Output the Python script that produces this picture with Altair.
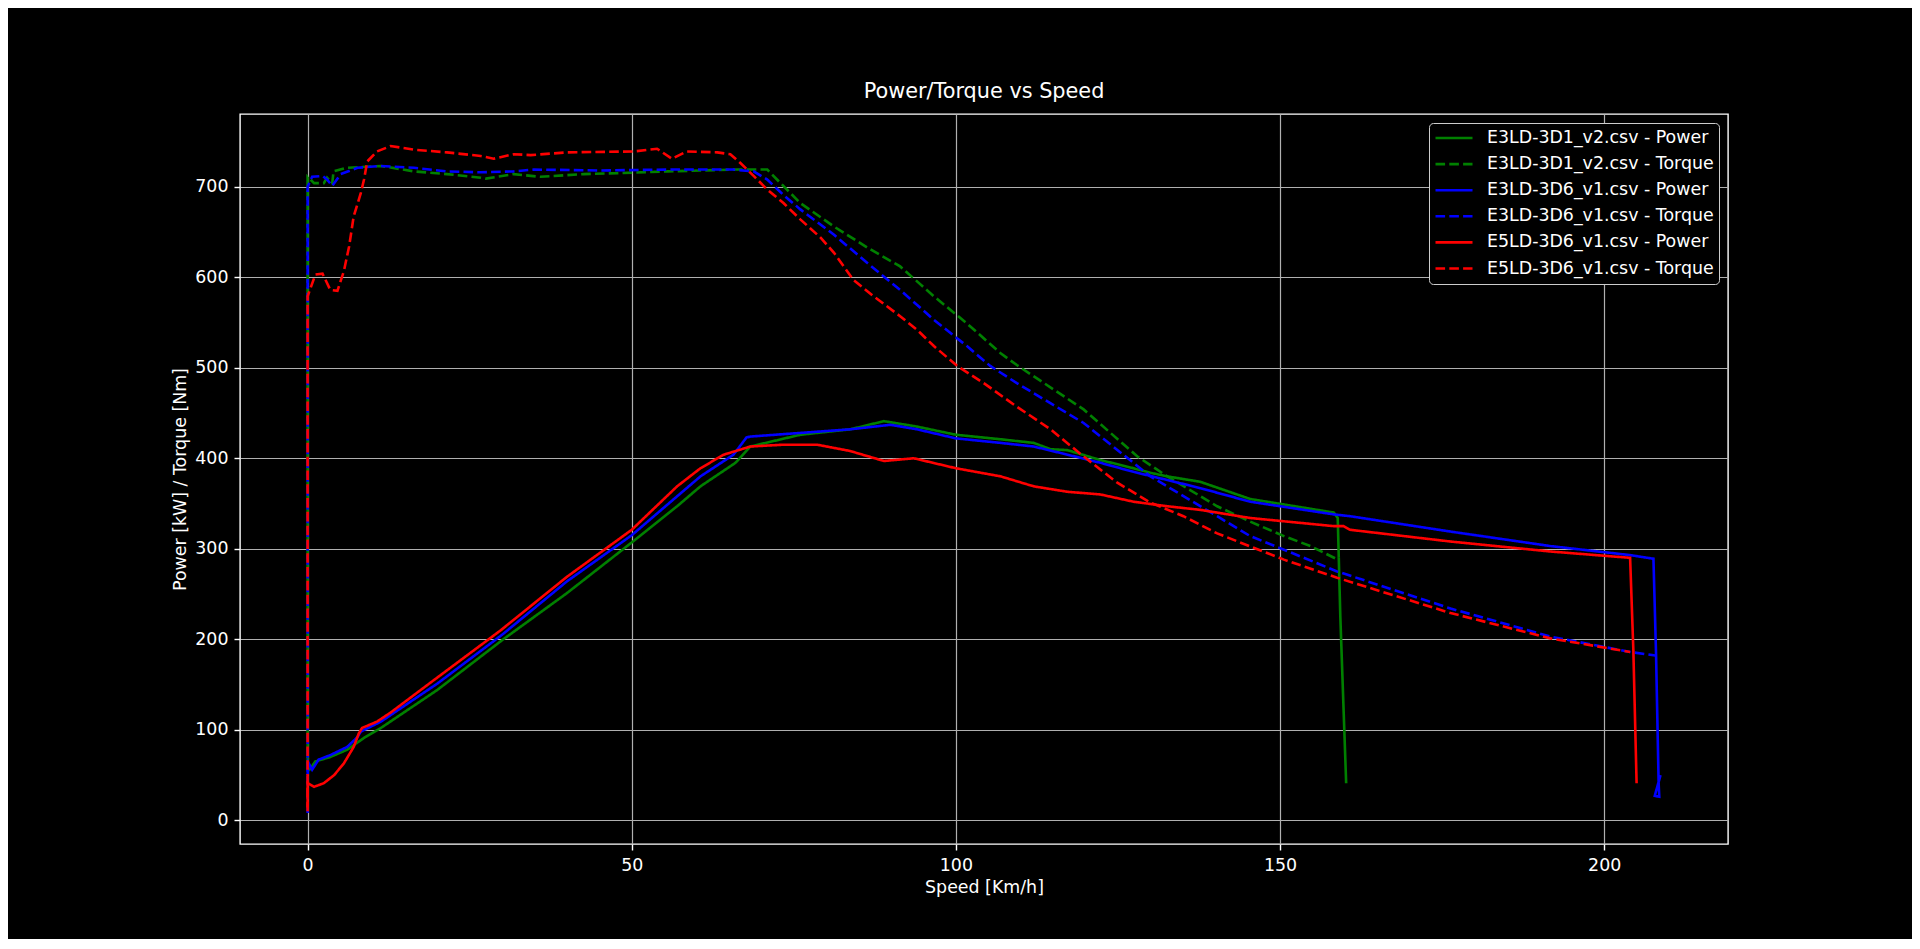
import altair as alt
import pandas as pd

SERIES = [
    "E3LD-3D1_v2.csv - Power",
    "E3LD-3D1_v2.csv - Torque",
    "E3LD-3D6_v1.csv - Power",
    "E3LD-3D6_v1.csv - Torque",
    "E5LD-3D6_v1.csv - Power",
    "E5LD-3D6_v1.csv - Torque",
]
COLORS = ["#008000", "#008000", "#0000ff", "#0000ff", "#ff0000", "#ff0000"]
DASHES = [[1, 0], [9.6, 4.2], [1, 0], [9.6, 4.2], [1, 0], [9.6, 4.2]]

# E3LD-3D1_v2 - Power
g_pow_x = [0.2, 0.5, 1.2, 3.5, 6.1, 8.7, 11.3, 20, 30, 40, 50, 57, 60.6, 66, 68.3, 76, 83.7,
           88.9, 94, 100, 106.9, 112, 114.6, 117.2, 122.3, 127.4, 130, 132.6, 137.7, 145.4,
           158.3, 158.9, 159.3, 160.2]
g_pow_y = [55, 58, 65, 70, 78, 91, 102, 144, 199, 251, 307, 347, 369, 395, 413, 426, 432,
           441, 435, 426, 421, 417, 410, 409, 398, 389, 384, 380, 374, 355,
           340, 334, 225, 41]

# E3LD-3D1_v2 - Torque
g_trq_x = [0, 0, 1.0, 2.5, 3.0, 3.8, 4.0, 6.1, 11.3, 16.4, 21.5, 26.7, 27.5, 31.8, 35.9, 42.6,
           47.8, 55.5, 65.7, 70.9, 72.4, 76, 81.2, 86.3, 91.4, 96.6, 101.7, 106.9, 109.4,
           119.7, 128, 132.6, 140.3, 145.4, 150.6, 154.7, 158.9]
g_trq_y = [60, 711, 704, 704, 710, 704, 717, 721, 723, 717, 714, 710, 709, 714, 711, 714,
           715, 717, 719, 719, 708, 682, 656, 633, 612, 579, 549, 516, 503,
           454, 402, 380, 347, 330, 314, 303, 288]

# E3LD-3D6_v1 - Power
b_pow_x = [0, 0.1, 0.7, 1.7, 3.5, 6.1, 7.7, 8.2, 11.3, 20, 30, 40, 50, 57, 60.6, 65.7, 67.7,
           68.3, 76, 83.7, 89.9, 94, 100, 106.9, 112, 117.2, 122.3, 127.4, 132.6, 137.7,
           145.4, 158.3, 160.8, 176.3, 191.7, 204, 207.6, 208.0, 208.4, 208.5, 207.8, 208.7]
b_pow_y = [50, 64, 56, 67, 72, 81, 92, 98, 109, 151, 205, 264, 315, 358, 380, 404, 423,
           424, 428, 432, 437, 432, 422, 417, 413, 404, 395, 385, 376, 367,
           352, 338, 336, 319, 303, 293, 289, 184, 41, 26, 27, 50]

# E3LD-3D6_v1 - Torque
b_trq_x = [0, 0, 0.7, 2.3, 3.0, 3.8, 5.1, 7.7, 11.3, 16.4, 21.5, 26.7, 31.8, 34.9, 45.2, 55.5,
           65.7, 68.8, 70.9, 73.4, 76, 81.2, 86.3, 91.4, 96.6, 101.7, 105.3, 109.4, 119.7,
           130, 140.3, 145.4, 150.6, 158.8, 176.3, 191.7, 204, 207.9]
b_trq_y = [8, 700, 711, 712, 708, 701, 714, 721, 723, 721, 717, 716, 717, 719, 718, 719,
           719, 717, 708, 691, 675, 647, 616, 586, 553, 524, 502, 483, 439,
           380, 336, 314, 299, 275, 234, 203, 186, 182]

# E5LD-3D6_v1 - Power
r_pow_x = [0, 0, 1.0, 2.5, 4.1, 5.6, 7.1, 7.9, 8.4, 10.7, 12.8, 19.5, 29.8, 40, 50, 57, 60.6,
           64.2, 68.3, 73.4, 78.6, 83.7, 88.9, 93.5, 100, 106.9, 112, 117.2, 122.3, 127.4,
           132.6, 137.7, 145.4, 158.3, 159.8, 160.8, 176.3, 191.7, 204, 204.5, 205]
r_pow_y = [14, 41, 37, 41, 50, 63, 81, 96, 102, 109, 119, 155, 210, 269, 321, 369, 389,
           404, 413, 415, 415, 408, 397, 400, 389, 380, 369, 363, 360, 352,
           347, 343, 334, 325, 325, 321, 308, 297, 290, 188, 41]

# E5LD-3D6_v1 - Torque
r_trq_x = [0, 0, 1.2, 2.3, 3.5, 4.6, 5.6, 6.4, 7.1, 8.2, 8.7, 9.2, 10.7, 12.8, 16.4, 21.5, 26.7,
           28.7, 31.8, 34.4, 40, 50.3, 53.9, 56.2, 58.5, 63.2, 65.2, 66.8, 68.8, 70.9, 73.4,
           76, 79.1, 81.2, 84.2, 87.3, 91.4, 94, 96.6, 100.2, 104.3, 109.4, 114.6, 119.7,
           124.9, 130, 135.1, 140.3, 150.6, 158.8, 176.3, 191.7, 204]
r_trq_y = [10, 579, 603, 604, 586, 585, 607, 634, 667, 693, 708, 728, 739, 745, 741, 738, 734,
           731, 736, 735, 738, 739, 742, 731, 739, 738, 736, 726, 712, 697, 682,
           664, 644, 627, 597, 579, 557, 542, 524, 502, 483, 457, 432, 402,
           373, 351, 336, 317, 288, 268, 229, 201, 186]

SERIES_DATA = [
    (g_pow_x, g_pow_y), (g_trq_x, g_trq_y),
    (b_pow_x, b_pow_y), (b_trq_x, b_trq_y),
    (r_pow_x, r_pow_y), (r_trq_x, r_trq_y),
]

rows = []
for name, (xs, ys) in zip(SERIES, SERIES_DATA):
    for i, (x, y) in enumerate(zip(xs, ys)):
        rows.append({"series": name, "speed": x, "value": y, "idx": i})
df = pd.DataFrame(rows)

font = "DejaVu Sans"

chart = alt.Chart(df).mark_line(strokeWidth=2.6).encode(
    x=alt.X("speed:Q",
            scale=alt.Scale(domain=[-10.43, 219.1], nice=False, zero=False),
            axis=alt.Axis(values=[0, 50, 100, 150, 200], title="Speed [Km/h]")),
    y=alt.Y("value:Q",
            scale=alt.Scale(domain=[-26.2, 780.4], nice=False, zero=False),
            axis=alt.Axis(values=[0, 100, 200, 300, 400, 500, 600, 700],
                          title="Power [kW] / Torque [Nm]")),
    color=alt.Color("series:N", scale=alt.Scale(domain=SERIES, range=COLORS),
                    legend=alt.Legend(title=None)),
    strokeDash=alt.StrokeDash("series:N", scale=alt.Scale(domain=SERIES, range=DASHES),
                              legend=alt.Legend(title=None)),
    order=alt.Order("idx:Q"),
).properties(
    width=1488,
    height=730,
    title=alt.TitleParams("Power/Torque vs Speed"),
    padding={"left": 232, "top": 106, "right": 184, "bottom": 95},
    autosize=alt.AutoSizeParams(type="none"),
).configure(
    background="black",
    font=font,
).configure_view(
    stroke="white",
    strokeWidth=1.4,
).configure_axis(
    domain=False,
    grid=True,
    gridColor="#b0b0b0",
    gridWidth=1.2,
    tickColor="white",
    tickSize=6,
    tickWidth=1.4,
    labelColor="white",
    labelFont=font,
    labelFontSize=17.4,
    labelPadding=6,
    labelFlush=False,
    titleColor="white",
    titleFont=font,
    titleFontSize=17.4,
    titleFontWeight="normal",
    titlePadding=5,
).configure_legend(
    orient="top-right",
    offset=9,
    fillColor="black",
    strokeColor="#cccccc",
    cornerRadius=4,
    padding=5,
    labelColor="white",
    labelFont=font,
    labelFontSize=17.4,
    labelLimit=0,
    labelOffset=13,
    symbolType="stroke",
    symbolSize=1369,
    symbolStrokeWidth=2.6,
    clipHeight=20,
    rowPadding=6.1,
).configure_title(
    color="white",
    font=font,
    fontSize=20.8,
    fontWeight="normal",
    anchor="middle",
    offset=11,
    baseline="alphabetic",
)

chart.save("out.html", embed_options={"renderer": "svg", "actions": False})
